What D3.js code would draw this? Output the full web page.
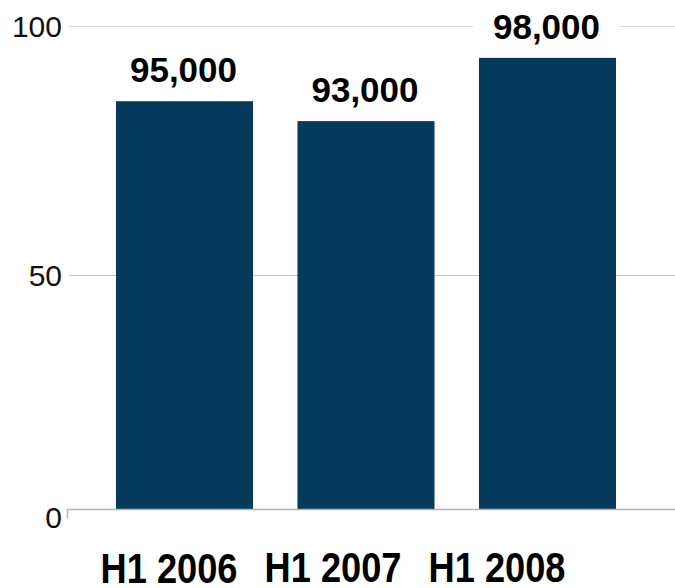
<!DOCTYPE html>
<html>
<head>
<meta charset="utf-8">
<script src="https://cdn.jsdelivr.net/npm/d3@7"></script>
<style>
  html, body { margin: 0; padding: 0; background: #fff; }
  svg { display: block; }
</style>
</head>
<body>
<svg id="chart" width="675" height="588"></svg>
<script>
// ---- data ----
const categories = ["H1 2006", "H1 2007", "H1 2008"];
const values = [84.9, 80.9, 93.6];            // bar heights
const valueLabels = ["95,000", "93,000", "98,000"];
const yTicks = [0, 50, 100];

// ---- layout ----
const W = 675, H = 588;
const svg = d3.select("#chart");
const font = "'Liberation Sans', Arial, sans-serif";

const y = d3.scaleLinear().domain([0, 50, 100]).range([509.5, 275, 26]);
const x = d3.scaleBand().domain(categories)
  .range([25.25, 706.75]).paddingInner(0.245).paddingOuter(0.5);
const xl = d3.scalePoint().domain(categories).range([169, 497]);

// gridlines
svg.append("g").selectAll("line").data(yTicks.filter(d => d !== 0)).join("line")
  .attr("x1", 69).attr("x2", W)
  .attr("y1", d => Math.round(y(d)) + 0.5).attr("y2", d => Math.round(y(d)) + 0.5)
  .attr("stroke", d => d === 100 ? "#d9d9d9" : "#c4c4c4").attr("stroke-width", 1);

// y tick labels
svg.append("g").selectAll("text").data(yTicks).join("text")
  .attr("x", 62)
  .attr("y", d => y(d) + (d === 0 ? 8 : 0))
  .attr("dy", "0.36em")
  .attr("text-anchor", "end")
  .attr("font-family", font).attr("font-size", 30)
  .attr("fill", "#111")
  .text(d => d);

// bars
svg.append("g").selectAll("rect").data(values).join("rect")
  .attr("x", (d, i) => x(categories[i]))
  .attr("width", x.bandwidth())
  .attr("y", d => y(d))
  .attr("height", d => y(0) - y(d))
  .attr("fill", "#053a5b");

// baseline (x axis)
svg.append("line")
  .attr("x1", 67).attr("x2", W)
  .attr("y1", 509.5).attr("y2", 509.5)
  .attr("stroke", "#b3b3b3").attr("stroke-width", 1.5);
svg.append("line")
  .attr("x1", 67.5).attr("x2", 67.5)
  .attr("y1", 509).attr("y2", 518)
  .attr("stroke", "#b3b3b3").attr("stroke-width", 1.5);

// value labels with white background
const vl = svg.append("g").selectAll("g").data(values).join("g");
vl.each(function(d, i) {
  const g = d3.select(this);
  const cx = x(categories[i]) + x.bandwidth() / 2;
  const t = g.append("text")
    .attr("x", cx - 1)
    .attr("y", y(d) - 19)
    .attr("text-anchor", "middle")
    .attr("font-family", font).attr("font-weight", "bold").attr("font-size", 35)
    .attr("fill", "#000")
    .text(valueLabels[i]);
  const bb = t.node().getBBox();
  g.insert("rect", "text")
    .attr("x", bb.x - 20).attr("y", bb.y)
    .attr("width", bb.width + 40).attr("height", bb.height)
    .attr("fill", "#fff");
});

// category labels
svg.append("g").selectAll("text").data(categories).join("text")
  .attr("x", d => xl(d))
  .attr("y", (d, i) => i === 0 ? 583 : 582)
  .attr("text-anchor", "middle")
  .attr("font-family", font).attr("font-weight", "bold").attr("font-size", 42)
  .attr("textLength", 137).attr("lengthAdjust", "spacingAndGlyphs")
  .attr("fill", "#000")
  .text(d => d);
</script>
</body>
</html>
